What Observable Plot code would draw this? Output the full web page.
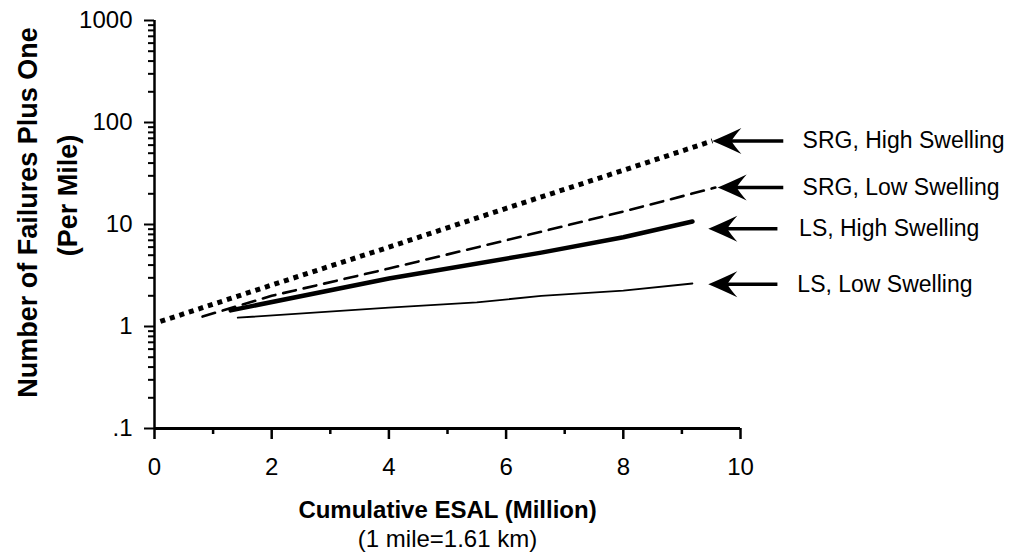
<!DOCTYPE html>
<html><head><meta charset="utf-8">
<script src="https://cdn.jsdelivr.net/npm/d3@7"></script>
<script src="https://cdn.jsdelivr.net/npm/@observablehq/plot@0.6"></script>
<style>body{margin:0;background:#fff;}</style>
</head><body><div id="chart"></div>
<script>
// Data
const series = ["SRG, High Swelling", "SRG, Low Swelling", "LS, High Swelling", "LS, Low Swelling"];
const srgHighX = [0.1, 2, 4, 6, 8, 9.52];
const srgHighY = [1.12, 2.55, 6.0, 14.4, 34, 66];
const srgLowX = [0.82, 2, 4, 6, 8, 9.57];
const srgLowY = [1.25, 2.0, 3.7, 7.0, 13.4, 23];
const lsHighX = [1.3, 4, 6.6, 8, 9.18];
const lsHighY = [1.44, 2.95, 5.3, 7.5, 10.7];
const lsLowX = [1.42, 4, 5.5, 6.6, 8, 9.18];
const lsLowY = [1.22, 1.53, 1.72, 2.0, 2.25, 2.64];

// annotation arrows and labels
const arrowY = [66, 23, 9.1, 2.6];
const arrowTipX = [9.52, 9.61, 9.45, 9.45];
const arrowTailX = [10.73, 10.73, 10.63, 10.63];
const labelX = [11.06, 11.06, 11.0, 10.97];

// axes
const xMajorTicks = [0, 2, 4, 6, 8, 10];
const xMinorTicks = [1, 3, 5, 7, 9];
const yMajorTicks = [0.1, 1, 10, 100, 1000];
const yTickLabels = [".1", "1", "10", "100", "1000"];
const yMinorTicks = [];
for (const d of [0.1, 1, 10, 100]) for (let k = 2; k <= 9; k++) yMinorTicks.push(+(d * k).toPrecision(3));
const xTitle = "Cumulative ESAL (Million)";
const xSubtitle = "(1 mile=1.61 km)";
const yTitle = "Number of Failures Plus One";
const ySubtitle = "(Per Mile)";

const rows = (xs, ys, s) => xs.map((x, i) => ({series: s, x, y: ys[i]}));
const srgHigh = rows(srgHighX, srgHighY, series[0]);
const srgLow = rows(srgLowX, srgLowY, series[1]);
const lsHigh = rows(lsHighX, lsHighY, series[2]);
const lsLow = rows(lsLowX, lsLowY, series[3]);
const arrows = series.map((s, i) => ({label: s, y: arrowY[i], tip: arrowTipX[i], tail: arrowTailX[i], lx: labelX[i]}));

const labelMap = new Map(yMajorTicks.map((d, i) => [d, yTickLabels[i]]));

const arrowHead = {
  draw(ctx) {
    ctx.moveTo(0, 0);
    ctx.quadraticCurveTo(12, -5, 29, -13);
    ctx.quadraticCurveTo(22, -5, 19, 0);
    ctx.quadraticCurveTo(22, 5, 29, 13);
    ctx.quadraticCurveTo(12, 5, 0, 0);
    ctx.closePath();
  }
};

const chart = Plot.plot({
  width: 1014,
  height: 557,
  marginLeft: 154,
  marginRight: 274,
  marginTop: 20,
  marginBottom: 129,
  x: {domain: [0, 10]},
  y: {type: "log", domain: [0.1, 1000]},
  style: {fontFamily: "'Liberation Sans', Arial, Helvetica, sans-serif", fontSize: "24px", color: "black", background: "white", overflow: "visible"},
  marks: [
    // y axis ticks
    Plot.axisY({ticks: yMinorTicks, tickSize: 6, strokeWidth: 2, tickFormat: () => "", label: null}),
    Plot.axisY({ticks: yMajorTicks, tickSize: 10, strokeWidth: 2, tickPadding: 12, tickFormat: (d) => labelMap.get(d), label: null}),
    // x axis ticks
    Plot.axisX({ticks: xMinorTicks, tickSize: 6, strokeWidth: 2.5, tickFormat: () => "", label: null}),
    Plot.axisX({ticks: xMajorTicks, tickSize: 11, strokeWidth: 2.5, tickPadding: 18, label: null}),
    // axis lines
    Plot.ruleX([0], {strokeWidth: 2.5}),
    Plot.ruleY([0.1], {strokeWidth: 3}),
    // series
    Plot.line(srgHigh, {x: "x", y: "y", stroke: "black", strokeWidth: 5, strokeDasharray: "5,5", strokeLinecap: "butt"}),
    Plot.line(srgLow, {x: "x", y: "y", stroke: "black", strokeWidth: 2.6, strokeDasharray: "13,8"}),
    Plot.line(lsHigh, {x: "x", y: "y", stroke: "black", strokeWidth: 4.5}),
    Plot.line(lsLow, {x: "x", y: "y", stroke: "black", strokeWidth: 1.8}),
    // arrows
    Plot.link(arrows, {x1: (d) => d.tip + 0.25, x2: "tail", y1: "y", y2: "y", stroke: "black", strokeWidth: 3.5}),
    Plot.dot(arrows, {x: "tip", y: "y", symbol: arrowHead, r: 5, fill: "black", stroke: null}),
    Plot.text(arrows, {x: "lx", y: "y", text: "label", textAnchor: "start", fontSize: 23}),
    // axis titles
    Plot.text([xTitle], {frameAnchor: "bottom", dy: 82, lineAnchor: "middle", fontWeight: "bold", fontSize: 24, text: (d) => d}),
    Plot.text([xSubtitle], {frameAnchor: "bottom", dy: 111, lineAnchor: "middle", fontSize: 24, text: (d) => d}),
    Plot.text([yTitle], {frameAnchor: "left", dx: -126, dy: -12, rotate: -90, textAnchor: "middle", lineAnchor: "middle", fontWeight: "bold", fontSize: 27, text: (d) => d}),
    Plot.text([ySubtitle], {frameAnchor: "left", dx: -86, dy: -29, rotate: -90, textAnchor: "middle", lineAnchor: "middle", fontWeight: "bold", fontSize: 27, text: (d) => d})
  ]
});
document.getElementById("chart").appendChild(chart);
</script>
</body></html>
